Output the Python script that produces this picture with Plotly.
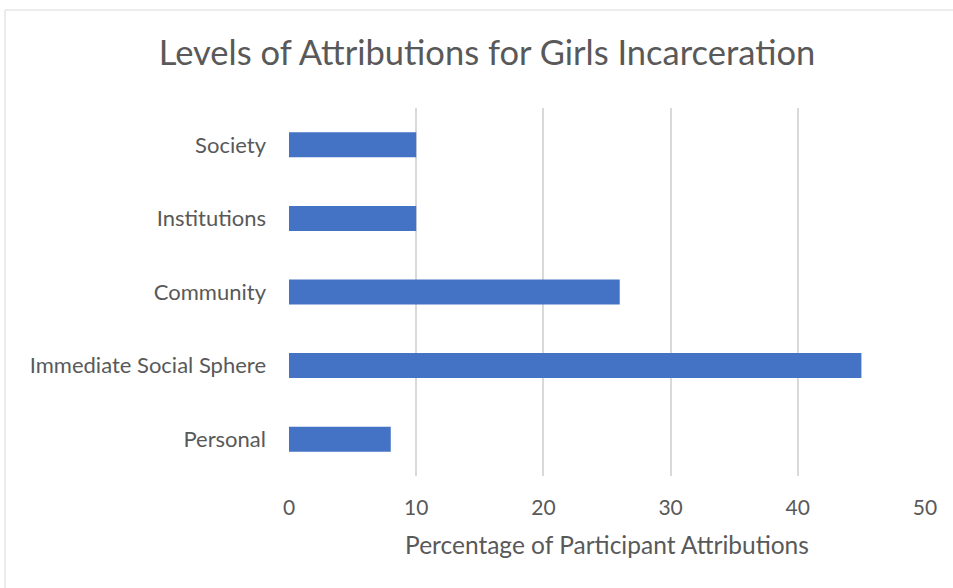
import plotly.graph_objects as go

categories = ["Personal", "Immediate Social Sphere", "Community", "Institutions", "Society"]
values = [8, 45, 26, 10, 10]
tick_vals = [0, 10, 20, 30, 40, 50]

W, H = 953, 588
ml, mr, mt, mb = 289, 28, 108, 112
pw, ph = W - ml - mr, H - mt - mb

FONT = "Lato"
TXT = "#595959"

fig = go.Figure(go.Bar(
    x=values, y=categories, orientation="h",
    marker=dict(color="#4472C4", line=dict(width=0)),
    width=0.34,
))

def px_to_paper_x(p):
    return (p - ml) / pw

def px_to_paper_y(p):
    return (H - mb - p) / ph

fig.add_shape(type="rect", xref="paper", yref="paper",
              x0=px_to_paper_x(5), x1=px_to_paper_x(1000),
              y0=px_to_paper_y(700), y1=px_to_paper_y(10),
              line=dict(color="#D9D9D9", width=1), fillcolor="rgba(0,0,0,0)", layer="below")

fig.update_layout(
    width=W, height=H,
    margin=dict(l=ml, r=mr, t=mt, b=mb),
    paper_bgcolor="white", plot_bgcolor="white",
    font=dict(family=FONT, color=TXT, size=20),
    title=dict(text="Levels of Attributions for Girls Incarceration",
               x=487 / W, xref="container", xanchor="center",
               y=1 - 53 / H, yref="container", yanchor="middle",
               font=dict(size=34.5, color=TXT, family=FONT)),
    xaxis=dict(range=[0, 50], tickvals=tick_vals, showgrid=True,
               gridcolor="#D9D9D9", gridwidth=2, zeroline=False,
               showline=False, ticks="", ticklabelstandoff=17,
               tickfont=dict(size=21, color=TXT),
               title=dict(text="Percentage of Participant Attributions",
                          font=dict(size=24.5, color=TXT), standoff=18)),
    yaxis=dict(showgrid=False, zeroline=False, showline=False, ticks="",
               ticklabelstandoff=22, tickfont=dict(size=22, color=TXT),
               range=[-0.5, 4.5]),
    showlegend=False,
    bargap=0.66,
)

fig.write_html("out.html")
